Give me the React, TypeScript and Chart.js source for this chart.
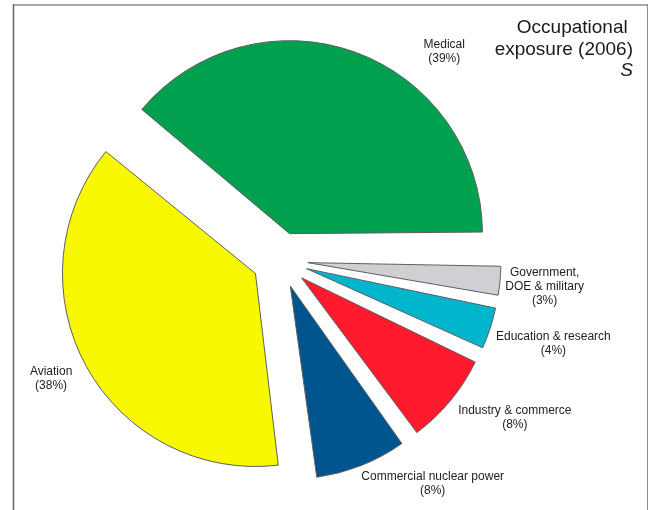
import React, { useEffect, useRef } from "react";
import { Chart, registerables } from "chart.js";

Chart.register(...registerables);

// ---- data ----
const categories = [
  "Medical",
  "Government, DOE & military",
  "Education & research",
  "Industry & commerce",
  "Commercial nuclear power",
  "Aviation",
];
const labelLines = [
  ["Medical"],
  ["Government,", "DOE & military"],
  ["Education & research"],
  ["Industry & commerce"],
  ["Commercial nuclear power"],
  ["Aviation"],
];
const shares = [39, 3, 4, 8, 8, 38];
const sliceColors = ["#00a04f", "#cfd0d4", "#00b5cc", "#ff1a2e", "#00558f", "#f8f800"];
const titleLines = ["Occupational ", "exposure (2006)"];
const titleMark = "S";

// label placement relative to each slice's bisector (angle shift in degrees, distance as radius factor)
const labelPlacement = [
  { shift: 18.5, dist: 1.373 },
  { shift: 0.4, dist: 1.378 },
  { shift: -0.9, dist: 1.482 },
  { shift: -5.7, dist: 1.466 },
  { shift: -12.7, dist: 1.404 },
  { shift: 1.3, dist: 1.337 },
];

const FONT = "'Liberation Sans', Arial, Helvetica, sans-serif";
const PIE_RADIUS = 193;
const EXPLODE = 28; // visible translation of every slice, px

const framePlugin = {
  id: "frame",
  beforeDraw(chart: any) {
    const ctx = chart.ctx;
    ctx.save();
    ctx.fillStyle = "#ffffff";
    ctx.fillRect(0, 0, chart.width, chart.height);
    ctx.strokeStyle = "#a9a9a9";
    ctx.lineWidth = 2;
    ctx.beginPath();
    ctx.moveTo(13, 5);
    ctx.lineTo(648, 5);
    ctx.stroke();
    ctx.strokeStyle = "#666666";
    ctx.lineWidth = 1.5;
    ctx.beginPath();
    ctx.moveTo(13.5, 4);
    ctx.lineTo(13.5, chart.height);
    ctx.stroke();
    ctx.strokeStyle = "#8c8c8c";
    ctx.lineWidth = 1;
    ctx.beginPath();
    ctx.moveTo(647.5, 4);
    ctx.lineTo(647.5, chart.height);
    ctx.stroke();
    ctx.restore();
  },
};

// Chart.js enlarges exploded slices by (offset/4)*(1-sin(circumference)); undo that so all slices share one radius
const equalRadiusPlugin = {
  id: "equalRadius",
  beforeDatasetsDraw(chart: any) {
    const meta = chart.getDatasetMeta(0);
    meta.data.forEach((arc: any) => {
      if (arc.$baseRadius === undefined) arc.$baseRadius = arc.outerRadius;
      const circ = arc.endAngle - arc.startAngle;
      const fix = 1 - Math.sin(Math.min(Math.PI, circ));
      const off = (arc.options.offset || 0) / 4;
      arc.outerRadius = arc.$baseRadius - off * fix;
    });
  },
};

const labelPlugin = {
  id: "sliceLabels",
  afterDatasetsDraw(chart: any) {
    const ctx = chart.ctx;
    const meta = chart.getDatasetMeta(0);
    ctx.save();
    ctx.font = `12px ${FONT}`;
    ctx.fillStyle = "#222222";
    ctx.textAlign = "center";
    ctx.textBaseline = "middle";
    meta.data.forEach((arc: any, i: number) => {
      const { x, y, startAngle, endAngle } = arc;
      const outerRadius = arc.$baseRadius ?? arc.outerRadius;
      const p = labelPlacement[i];
      const ang = (startAngle + endAngle) / 2 + (p.shift * Math.PI) / 180;
      const r = outerRadius * p.dist;
      const cx = x + Math.cos(ang) * r;
      const cy = y + Math.sin(ang) * r;
      const lines = [...labelLines[i], `(${shares[i]}%)`];
      const lh = 14;
      lines.forEach((t, k) => {
        ctx.fillText(t, cx, cy + (k - (lines.length - 1) / 2) * lh);
      });
    });
    ctx.restore();

    // title block, top right
    ctx.save();
    ctx.fillStyle = "#1a1a1a";
    ctx.textAlign = "right";
    ctx.textBaseline = "alphabetic";
    ctx.font = `19px ${FONT}`;
    const rightX = 633;
    ctx.fillText(titleLines[0], rightX, 33);
    ctx.fillText(titleLines[1], rightX, 55);
    ctx.font = `italic 19px ${FONT}`;
    ctx.fillText(titleMark, rightX, 76);
    ctx.restore();
  },
};

export default function App() {
  const canvasRef = useRef<HTMLCanvasElement | null>(null);

  useEffect(() => {
    if (!canvasRef.current) return;
    const chart = new Chart(canvasRef.current, {
      type: "pie",
      data: {
        labels: categories,
        datasets: [
          {
            data: shares,
            backgroundColor: sliceColors,
            borderColor: "#5f5f5f",
            borderWidth: 1,
            offset: EXPLODE * 4,
            radius: PIE_RADIUS,
          } as any,
        ],
      },
      options: {
        responsive: false,
        animation: false,
        rotation: -50.4,
        layout: { padding: { left: 0, right: 90, top: 10, bottom: 0 } },
        plugins: {
          legend: { display: false },
          tooltip: { enabled: false },
          title: { display: false },
        },
        events: [],
      } as any,
      plugins: [framePlugin, equalRadiusPlugin, labelPlugin],
    });
    return () => chart.destroy();
  }, []);

  return (
    <div style={{ position: "absolute", left: 0, top: 0, width: 650, height: 510 }}>
      <canvas ref={canvasRef} width={650} height={510} />
    </div>
  );
}
